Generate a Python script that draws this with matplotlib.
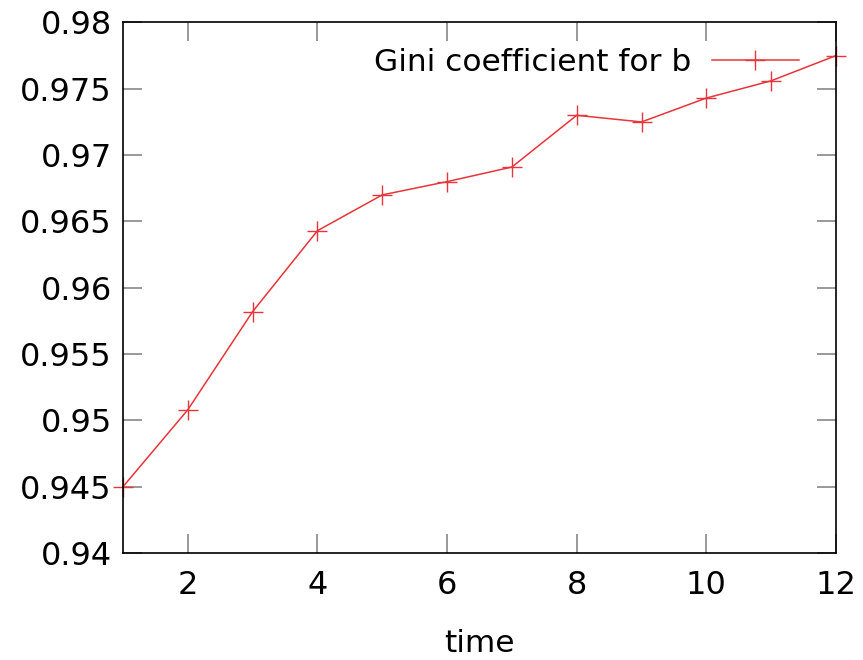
import matplotlib
matplotlib.use("Agg")
import matplotlib.pyplot as plt
from matplotlib.ticker import FuncFormatter, MultipleLocator

time = [1, 2, 3, 4, 5, 6, 7, 8, 9, 10, 11, 12]
gini_b = [0.9450, 0.9508, 0.9582, 0.9643, 0.9670, 0.9680,
          0.9691, 0.9730, 0.9725, 0.9743, 0.9756, 0.9775]

plt.rcParams['font.family'] = ['DejaVu Sans']

fig = plt.figure(figsize=(8.63, 6.6), dpi=100)
ax = fig.add_axes([0.1425, 0.162, 0.8262, 0.804])

ax.plot(time, gini_b, color="#e8343a", linewidth=1.1, marker="+",
        markersize=14, markeredgewidth=1.0, clip_on=False,
        label="Gini coefficient for b")

ax.set_xlim(1, 12)
ax.set_ylim(0.94, 0.98)
ax.xaxis.set_major_locator(MultipleLocator(2))
ax.yaxis.set_major_locator(MultipleLocator(0.005))
ax.yaxis.set_major_formatter(FuncFormatter(lambda v, p: "%g" % round(v, 4)))

ax.tick_params(direction="in", length=14, width=1.2, color="#888888",
               top=True, right=True, labelsize=23)
ax.tick_params(axis="y", pad=8)
ax.tick_params(axis="x", pad=12)
for s in ax.spines.values():
    s.set_linewidth(1.2)
    s.set_color("black")

ax.set_xlabel("time", fontsize=22.5, labelpad=20)

leg = ax.legend(loc="upper right", bbox_to_anchor=(0.966, 0.975),
                frameon=False, markerfirst=False, fontsize=22.5,
                handlelength=2.8, borderaxespad=0, handletextpad=0.65)

plt.savefig("out.png", dpi=100)
